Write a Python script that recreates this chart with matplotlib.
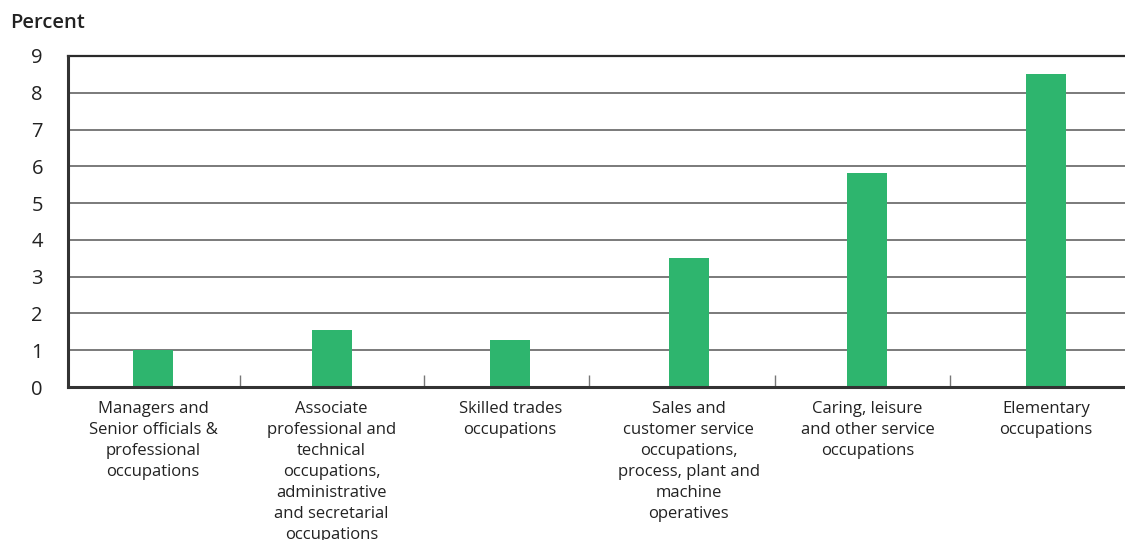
import matplotlib
matplotlib.use("Agg")
import matplotlib.pyplot as plt

categories = [
    "Managers and\nSenior officials &\nprofessional\noccupations",
    "Associate\nprofessional and\ntechnical\noccupations,\nadministrative\nand secretarial\noccupations",
    "Skilled trades\noccupations",
    "Sales and\ncustomer service\noccupations,\nprocess, plant and\nmachine\noperatives",
    "Caring, leisure\nand other service\noccupations",
    "Elementary\noccupations",
]
values = [1.0, 1.55, 1.27, 3.52, 5.83, 8.5]
y_ticks = [0, 1, 2, 3, 4, 5, 6, 7, 8, 9]
dividers = [0.49, 1.52, 2.44, 3.48, 4.46]

plt.rcParams['font.family'] = ['Open Sans', 'DejaVu Sans']

fig = plt.figure(figsize=(11.25, 5.4), dpi=100)
ax = fig.add_axes([0.0604, 0.2833, 0.9396, 0.613])

x = list(range(len(categories)))
ax.bar(x, values, width=0.224, color="#2EB56E", zorder=3)

ax.set_xlim(-0.476, 5.442)
ax.set_ylim(0, 9)
ax.set_yticks(y_ticks)
ax.set_yticklabels([str(t) for t in y_ticks], fontsize=14.5, color="#222222")
ax.tick_params(axis='y', length=0, pad=18)
for lbl in ax.get_yticklabels():
    lbl.set_y(lbl.get_position()[1])

for t in y_ticks[1:-1]:
    ax.axhline(t, color="#7a7a7a", lw=1.4, zorder=1)
ax.axhline(9, color="#2a2a2a", lw=1.6, zorder=1, clip_on=False)

ax.set_xticks(x)
ax.set_xticklabels(categories, fontsize=12, color="#222222", linespacing=1.42)
ax.tick_params(axis='x', length=0, pad=10)

ax.set_xticks(dividers, minor=True)
ax.tick_params(axis='x', which='minor', direction='in', length=9, width=1, color="#777777")

for s in ['top', 'right']:
    ax.spines[s].set_visible(False)
for s in ['left', 'bottom']:
    ax.spines[s].set_linewidth(2.2)
    ax.spines[s].set_color("#333333")
    ax.spines[s].set_zorder(4)

fig.text(0.009, 0.958, "Percent", fontsize=14.5, fontweight='semibold', color="#222222", va='center', ha='left')

fig.savefig("out.png", dpi=100)
